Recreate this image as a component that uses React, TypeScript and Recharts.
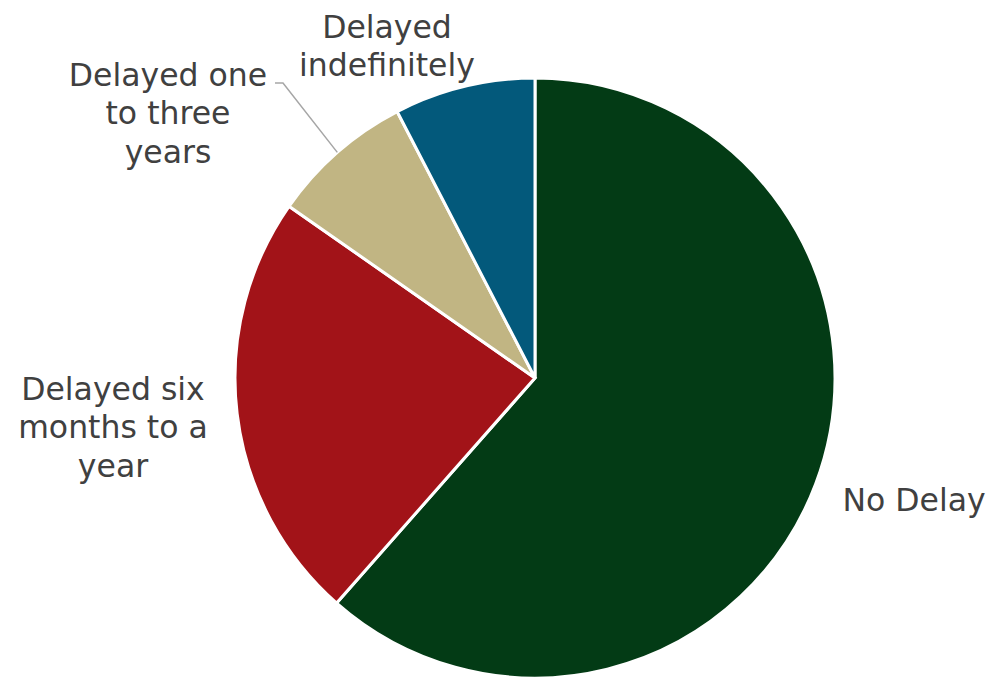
import { Pie, PieChart } from 'recharts';

const categories = ['No Delay', 'Delayed six months to a year', 'Delayed one to three years', 'Delayed indefinitely'];
const shares = [61.5, 23.2, 7.7, 7.6];
const labelLines = [['No Delay'], ['Delayed six', 'months to a', 'year'], ['Delayed one', 'to three', 'years'], ['Delayed', 'indefinitely']];
const colors = ['#033b15', '#a21318', '#c1b583', '#03597b'];

const data = categories.map((name, i) => ({ name, value: shares[i], fill: colors[i] }));

// label block centre, relative to the pie centre
const labelSpots = [
  { dx: 379, dy: 122 },
  { dx: -422, dy: 49 },
  { dx: -367, dy: -265 },
  { dx: -148, dy: -332 },
];

const RAD = Math.PI / 180;

function renderLabel(props: any) {
  const { cx, cy, midAngle, outerRadius, index } = props;
  const spot = labelSpots[index];
  const lines = labelLines[index];
  const lineH = 38.5;
  const x = cx + spot.dx;
  const y0 = cy + spot.dy - ((lines.length - 1) * lineH) / 2;
  let leader = null;
  if (index === 2) {
    const sx = cx + outerRadius * Math.cos(-midAngle * RAD);
    const sy = cy + outerRadius * Math.sin(-midAngle * RAD);
    leader = (
      <polyline
        points={`${sx},${sy} ${cx - 252},${cy - 295} ${cx - 260},${cy - 295}`}
        fill="none"
        stroke="#a6a6a6"
        strokeWidth={1.5}
      />
    );
  }
  return (
    <g key={`lbl-${index}`}>
      {leader}
      <text x={x} y={y0} textAnchor="middle" dominantBaseline="central" fill="#404040" fontSize={31.5} fontFamily="'DejaVu Sans', Verdana, sans-serif">
        {lines.map((t, i) => (
          <tspan key={i} x={x} dy={i === 0 ? 0 : lineH}>
            {t}
          </tspan>
        ))}
      </text>
    </g>
  );
}

export default function App() {
  return (
    <div style={{ position: 'absolute', left: 0, top: 0, background: '#fff' }}>
      <PieChart width={990} height={677} margin={{ top: 0, right: 0, bottom: 0, left: 0 }}>
        <Pie
          data={data}
          dataKey="value"
          nameKey="name"
          cx={535}
          cy={378}
          outerRadius={300}
          startAngle={90}
          endAngle={-270}
          stroke="#ffffff"
          strokeWidth={3}
          label={renderLabel}
          labelLine={false}
          isAnimationActive={false}
        />
      </PieChart>
    </div>
  );
}
